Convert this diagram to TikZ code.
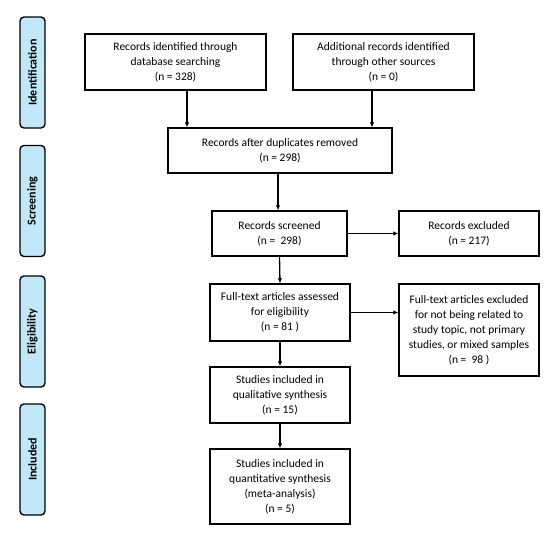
\documentclass[tikz,border=0pt]{standalone}
\usepackage{fontspec}
\setmainfont{Carlito}
\usetikzlibrary{arrows.meta}
\definecolor{sideblue}{HTML}{C0E8F8}
\begin{document}
\begin{tikzpicture}[x=1pt,y=1pt,
  box/.style={draw,line width=1.3pt,align=center,inner sep=2pt,font=\fontsize{11.5}{15}\selectfont},
  side/.style={draw,line width=1.4pt,fill=sideblue,rounded corners=4pt,minimum width=25pt,minimum height=111pt,inner sep=0pt},
  sidetext/.style={rotate=90,font=\bfseries\fontsize{12}{14}\selectfont},
  arr/.style={-{Latex[length=5pt,width=4.5pt]},line width=1.3pt}]
\useasboundingbox (0,0) rectangle (550,-538);
% side labels
\node[side] (sid) at (32.5,-72.5) {};
\node[sidetext] (tid) at (sid.center) {Identification};
\node[side] (ssc) at (32.5,-201) {};
\node[sidetext] (tsc) at (ssc.center) {Screening};
\node[side] (sel) at (32.5,-331.5) {};
\node[sidetext] (tel) at (sel.center) {Eligibility};
\node[side] (sin) at (32.5,-459.5) {};
\node[sidetext] (tin) at (sin.center) {Included};
% boxes
\node[box,minimum width=181pt,minimum height=56pt] (b1) at (175.5,-62) {Records identified through\\database searching\\(n = 328)};
\node[box,minimum width=181pt,minimum height=56pt] (b2) at (383.5,-62) {Additional records identified\\through other sources\\(n = 0)};
\node[box,minimum width=224pt,minimum height=45pt] (dup) at (280,-150.5) {Records after duplicates removed\\(n = 298)};
\node[box,minimum width=135pt,minimum height=45pt] (scr) at (279.5,-233.5) {Records screened\\(n =\ \ 298)};
\node[box,minimum width=140pt,minimum height=45pt] (exc) at (469,-233.5) {Records excluded\\(n = 217)};
\node[box,minimum width=140pt,minimum height=57pt] (ft) at (280,-312.5) {Full-text articles assessed\\for eligibility\\(n = 81 )};
\node[box,minimum width=140pt,minimum height=92pt] (ftx) at (469,-330) {Full-text articles excluded\\for not being related to\\study topic, not primary\\studies, or mixed samples\\(n =\ \ 98 )};
\node[box,minimum width=140pt,minimum height=56pt] (qual) at (280,-395) {Studies included in\\qualitative synthesis\\(n = 15)};
\node[box,minimum width=140pt,minimum height=75pt] (quant) at (280,-486.5) {Studies included in\\quantitative synthesis\\(meta-analysis)\\(n = 5)};
% connectors
\draw[arr] ([xshift=11.5pt]b1.south) -- ([xshift=11.5pt]b1.south |- dup.north);
\draw[arr] ([xshift=-11.5pt]b2.south) -- ([xshift=-11.5pt]b2.south |- dup.north);
\draw[arr] ([xshift=-2pt]dup.south) -- ([xshift=-2pt]dup.south |- scr.north);
\draw[arr] (scr.east) -- (exc.west);
\draw[arr] (scr.south) -- (ft.north);
\draw[arr] (ft.east) -- (ft.east -| ftx.west);
\draw[arr] (ft.south) -- (qual.north);
\draw[arr] (qual.south) -- (quant.north);
\end{tikzpicture}
\end{document}
